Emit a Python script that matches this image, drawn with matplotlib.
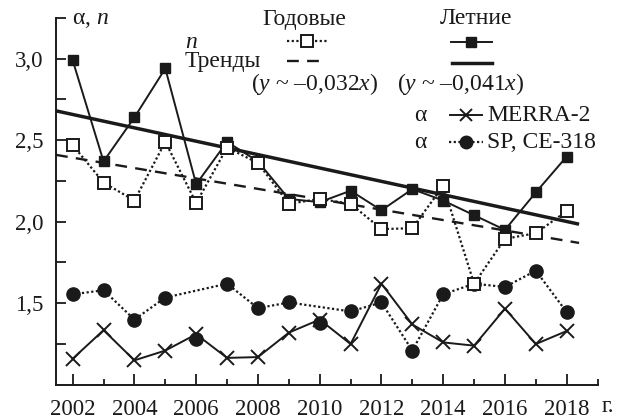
import numpy as np
import matplotlib
matplotlib.use("Agg")
import matplotlib.pyplot as plt
from matplotlib.lines import Line2D

plt.rcParams['font.family'] = ['Liberation Serif', 'DejaVu Serif']
plt.rcParams['mathtext.fontset'] = 'custom'
plt.rcParams['mathtext.rm'] = 'Liberation Serif'
plt.rcParams['mathtext.it'] = 'Liberation Serif:italic'

years = list(range(2002, 2019))
annual_n = [2.47, 2.24, 2.13, 2.49, 2.115, 2.455, 2.36, 2.11, 2.14, 2.11,
            1.955, 1.96, 2.22, 1.62, 1.895, 1.93, 2.065]
summer_n = [2.99, 2.37, 2.64, 2.94, 2.23, 2.49, 2.37, 2.14, 2.12, 2.19,
            2.07, 2.20, 2.13, 2.04, 1.95, 2.18, 2.40]
merra_alpha = [1.16, 1.335, 1.15, 1.21, 1.31, 1.165, 1.17, 1.32, 1.40, 1.25,
               1.62, 1.37, 1.26, 1.24, 1.467, 1.25, 1.33]
sp_alpha = [1.555, 1.58, 1.40, 1.535, 1.28, 1.62, 1.47, 1.505, 1.38, 1.45,
            1.505, 1.21, 1.555, 1.62, 1.60, 1.70, 1.445]
sp_line_skip = [2006, 2010]   # points not joined by the dotted line
trend_years = [2001.46, 2018.4]
annual_trend = [2.41, 1.87]
summer_trend = [2.68, 1.985]
xtick_labels = ['2002', '2004', '2006', '2008', '2010', '2012', '2014', '2016', '2018']
ytick_vals = [1.5, 2.0, 2.5, 3.0]
ytick_labels = ['1,5', '2,0', '2,5', '3,0']

W, H = 617, 419
fig = plt.figure(figsize=(W / 100, H / 100), dpi=100)
fig.patch.set_facecolor('white')
ax_l, ax_r, ax_b, ax_t = 56, 597.6, 384.8, 17.9
ax = fig.add_axes([ax_l / W, 1 - ax_b / H, (ax_r - ax_l) / W, (ax_b - ax_t) / H])
ink = '#1a1a1a'

# trends
ax.plot(trend_years, summer_trend, color=ink, lw=2.5, solid_capstyle='butt', zorder=2)
ax.plot(trend_years, annual_trend, color=ink, lw=1.7, dashes=(5, 3.5), zorder=2)

# alpha series
ax.plot(years, merra_alpha, color=ink, lw=1.4, marker='x', ms=10, mew=1.4, zorder=3)
sp_x = [y for y in years if y not in sp_line_skip]
sp_y = [v for y, v in zip(years, sp_alpha) if y not in sp_line_skip]
ax.plot(sp_x, sp_y, color=ink, lw=1.6, ls=(0, (1, 1.1)), zorder=3)
ax.plot(years, sp_alpha, ls='none', marker='o', ms=9.5, color=ink, zorder=4)

# n series
ax.plot(years, summer_n, color=ink, lw=1.4, marker='s', ms=7, mfc=ink, mec=ink, zorder=5)
ax.plot(years, annual_n, color=ink, lw=1.6, ls=(0, (1, 1.1)), marker='s', ms=8.5,
        mfc='white', mec=ink, mew=1.4, zorder=6)

ax.set_xlim(2001.46, 2019)
ax.set_ylim(1.0, 3.25)
for s in ['top', 'right']:
    ax.spines[s].set_visible(False)
for s in ['left', 'bottom']:
    ax.spines[s].set_linewidth(1.4)
    ax.spines[s].set_color(ink)
ax.set_xticks(list(range(2002, 2019, 2)))
ax.set_xticklabels(xtick_labels)
ax.set_xticks(list(range(2003, 2020, 2)), minor=True)
ax.set_yticks(ytick_vals)
ax.set_yticklabels(ytick_labels)
ax.set_yticks([1.25, 1.75, 2.25, 2.75, 3.25], minor=True)
ax.tick_params(axis='both', which='both', direction='in', colors=ink, width=1.3, labelsize=16.5)
ax.tick_params(axis='x', which='major', length=8, pad=10)
ax.tick_params(axis='x', which='minor', length=4)
ax.tick_params(axis='y', which='both', length=7, pad=9)


def fx(x):
    return x / W


def fy(y):
    return 1 - y / H


def txt(x, y, s, ha='left', size=17):
    fig.text(fx(x), fy(y), s, ha=ha, va='center', fontsize=size, color=ink)


def mark(x, y, **kw):
    fig.add_artist(Line2D([fx(x)], [fy(y)], transform=fig.transFigure, ls='none', color=ink, **kw))


def sample(x0, x1, y, **kw):
    fig.add_artist(Line2D([fx(x0), fx(x1)], [fy(y), fy(y)], transform=fig.transFigure, color=ink, **kw))


txt(72, 19, 'α, $n$')
txt(304, 19, 'Годовые', ha='center')
txt(476, 19, 'Летние', ha='center')
txt(185, 42, '$n$')
txt(185, 62, 'Тренды')
txt(251, 84, '($y$ ~ –0,032$x$)')
txt(397, 84, '($y$ ~ –0,041$x$)')
txt(414, 115, 'α')
txt(487, 115, 'MERRA-2')
txt(414, 142, 'α')
txt(487, 142, 'SP, CE-318')
txt(602, 406, 'г.', size=16.5)

sample(287, 327, 41, lw=1.6, ls=(0, (1, 1.1)))
mark(307, 41, marker='s', ms=8.5, mfc='white', mec=ink, mew=1.4)
sample(451, 492, 42, lw=1.4)
mark(471, 42, marker='s', ms=6.5)
sample(287, 326, 61, lw=1.7, dashes=(5, 3.5))
sample(452, 492, 63, lw=2.5)
sample(450, 482, 115, lw=1.4)
mark(466, 115, marker='x', ms=9, mew=1.4)
sample(449, 483, 142, lw=1.6, ls=(0, (1, 1.1)))
mark(466, 142, marker='o', ms=9)

fig.savefig('out.png', dpi=100, facecolor='white')
